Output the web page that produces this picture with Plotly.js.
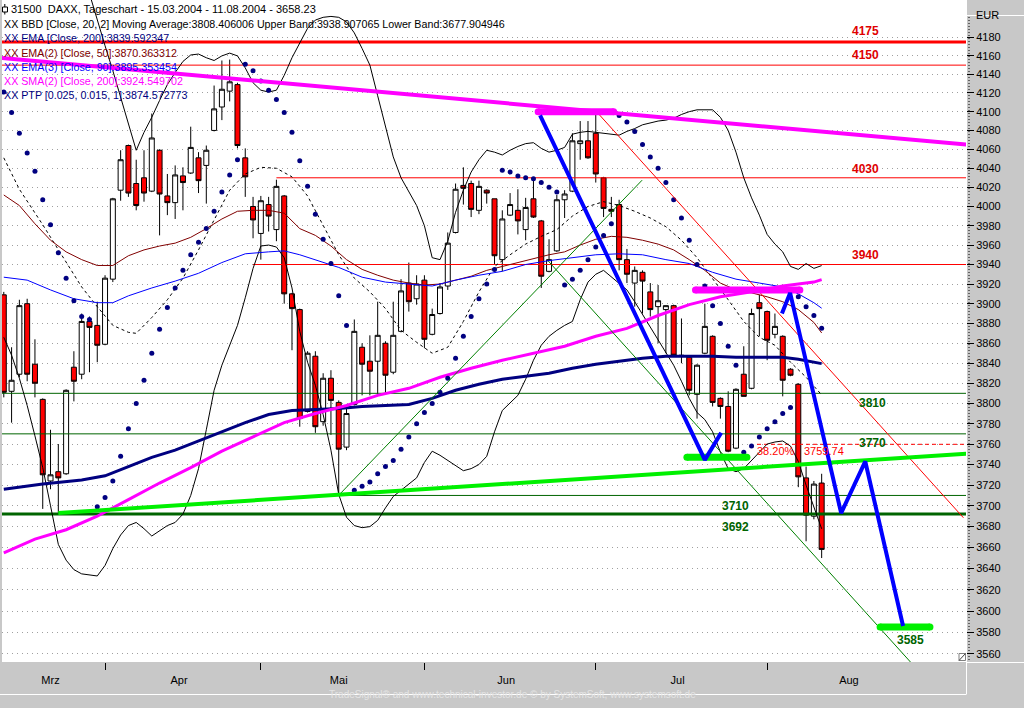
<!DOCTYPE html>
<html><head><meta charset="utf-8">
<script src="https://cdn.plot.ly/plotly-3.0.1.min.js"></script>
<style>html,body{margin:0;padding:0;background:#c8c8c8;}#chart{width:1024px;height:708px;}</style>
</head><body><div id="chart"></div>
<script>
// ---------- DATA ----------
const dates = [
'2004-03-15','2004-03-16','2004-03-17','2004-03-18','2004-03-19','2004-03-22','2004-03-23','2004-03-24','2004-03-25','2004-03-26','2004-03-29','2004-03-30','2004-03-31',
'2004-04-01','2004-04-02','2004-04-05','2004-04-06','2004-04-07','2004-04-08','2004-04-13','2004-04-14','2004-04-15','2004-04-16','2004-04-19','2004-04-20','2004-04-21','2004-04-22','2004-04-23','2004-04-26','2004-04-27','2004-04-28','2004-04-29','2004-04-30',
'2004-05-03','2004-05-04','2004-05-05','2004-05-06','2004-05-07','2004-05-10','2004-05-11','2004-05-12','2004-05-13','2004-05-14','2004-05-17','2004-05-18','2004-05-19','2004-05-20','2004-05-21','2004-05-24','2004-05-25','2004-05-26','2004-05-27','2004-05-28','2004-05-31',
'2004-06-01','2004-06-02','2004-06-03','2004-06-04','2004-06-07','2004-06-08','2004-06-09','2004-06-10','2004-06-11','2004-06-14','2004-06-15','2004-06-16','2004-06-17','2004-06-18','2004-06-21','2004-06-22','2004-06-23','2004-06-24','2004-06-25','2004-06-28','2004-06-29','2004-06-30',
'2004-07-01','2004-07-02','2004-07-05','2004-07-06','2004-07-07','2004-07-08','2004-07-09','2004-07-12','2004-07-13','2004-07-14','2004-07-15','2004-07-16','2004-07-19','2004-07-20','2004-07-21','2004-07-22','2004-07-23','2004-07-26','2004-07-27','2004-07-28','2004-07-29','2004-07-30',
'2004-08-02','2004-08-03','2004-08-04','2004-08-05','2004-08-06','2004-08-09','2004-08-10','2004-08-11'];

const open = [3909,3812,3829,3900,3839,3804,3724,3733,3731,3836,3829,3882,3878,3859,3925,4017,4064,4024,4030,4016,4059,4011,4004,4032,4035,4051,4043,4080,4105,4122,4129,4051,4000,3972,4002,3976,4011,3910,3894,3792,3847,3782,3825,3801,3757,3799,3856,3842,3842,3860,3831,3872,3921,3905,3924,3869,3890,3918,3973,4022,4024,3996,4017,4008,3945,3991,3996,3976,4008,3985,3933,3954,4007,4016,4066,4069,4077,4030,3997,4002,3945,3921,3932,3912,3897,3894,3898,3848,3846,3809,3850,3867,3805,3797,3756,3829,3815,3901,3892,3869,3867,3834,3819,3727,3690,3722];
const high = [3912,3856,3904,3905,3864,3805,3774,3760,3814,3852,3890,3887,3902,3929,4009,4059,4065,4049,4059,4098,4060,4034,4043,4041,4084,4057,4064,4128,4155,4156,4131,4061,4010,4011,4010,4028,4012,3911,3895,3852,3852,3830,3833,3803,3796,3884,3860,3868,3902,3862,3902,3925,3942,3929,3929,3895,3921,3973,4024,4041,4027,4027,4018,4008,3996,4014,4018,4009,4030,3986,3966,4012,4017,4077,4090,4090,4098,4031,4010,4007,3956,3938,3934,3921,3919,3898,3899,3885,3847,3839,3900,3868,3806,3812,3815,3857,3895,3909,3893,3890,3868,3835,3820,3738,3724,3731];
const low = [3806,3781,3826,3822,3806,3697,3716,3693,3730,3802,3824,3831,3841,3858,3922,4006,4010,3996,4005,4015,3970,3991,3987,3996,4034,4014,4003,4079,4091,4111,4061,4010,3967,3945,3974,3964,3900,3853,3777,3791,3771,3778,3769,3712,3754,3798,3808,3808,3808,3810,3829,3871,3892,3899,3855,3868,3889,3914,3972,4002,3989,3992,4003,3940,3933,3990,3971,3965,3988,3916,3932,3953,3988,4015,4049,4050,4025,3989,3989,3934,3921,3897,3890,3887,3860,3850,3847,3840,3808,3785,3849,3797,3785,3752,3755,3807,3814,3867,3843,3865,3807,3827,3718,3666,3687,3650];
const close = [3811,3823,3898,3829,3820,3730,3730,3727,3813,3822,3882,3876,3858,3926,4008,4049,4014,4001,4014,4072,4013,4004,4033,4025,4062,4027,4059,4103,4124,4132,4064,4031,3986,4006,3990,4021,3910,3895,3785,3850,3777,3825,3803,3755,3790,3872,3839,3832,3868,3828,3868,3913,3902,3920,3864,3889,3917,3962,4018,4019,3997,4021,4014,3949,3987,4002,3985,3999,3989,3928,3945,4007,4013,4069,4069,4051,4034,3998,3995,3945,3930,3934,3923,3894,3903,3898,3848,3847,3813,3838,3877,3801,3797,3753,3814,3807,3890,3895,3863,3877,3823,3828,3728,3691,3721,3658.23];

// Bollinger Bands [Close, 20, 2]
const bbUpperX = Array.from({length: 95}, (_, k) => k + 11);
const bbUpper = [4228,4198,4171,4144,4116,4088,4059,4078,4094,4112,4129,4142,4154,4161,4162,4158,4155,4160,4163,4160,4147,4131,4123,4121,4123,4139,4158,4174,4190,4199,4202,4203,4202,4197,4185,4168,4150,4117,4084,4052,4030,4016,4001,3980,3947,3945,3964,3994,4017,4036,4049,4059,4057,4054,4059,4063,4066,4067,4061,4057,4059,4062,4076,4078,4079,4078,4077,4076,4075,4079,4082,4086,4088,4090,4091,4093,4097,4100,4102,4102,4102,4094,4080,4057,4030,4009,3991,3971,3961,3953,3938,3935,3941,3936,3938.9];
const bbMidX = [0,2,5,8,10,12,14,16,17,19,21,23,25,27,29,31,33,35,37,39,41,43,45,47,49,51,53,55,57,59,61,63,65,67,69,71,73,75,77,79,81,83,85,87,89,91,93,95,97,99,101,103,105];
const bbMid = [4051,4018,3981,3942,3917,3897,3878,3871,3870,3886,3904,3926,3955,3986,4017,4034,4041,4040,4031,4011,3981,3950,3926,3912,3895,3873,3861,3850,3856,3882,3912,3938,3950,3961,3969,3976,3990,4000,4005,4001,3995,3988,3979,3965,3947,3926,3904,3882,3866,3858,3841,3826,3808.4];
const bbLower = [3866,3848,3825,3798,3768,3737,3700,3663,3648,3639,3635,3634,3633,3643,3659,3672,3681,3684,3678,3671,3676,3681,3684,3692,3710,3736,3774,3813,3838,3858,3878,3906,3936,3959,3960,3958,3947,3916,3872,3841,3818,3789,3754,3711,3689,3681,3679,3680,3686,3698,3709,3715,3721,3727,3742,3753,3749,3744,3739,3734,3736,3740,3748,3772,3793,3800,3808,3824,3843,3858,3867,3873,3878,3882,3904,3922,3930,3934,3927,3920,3914,3902,3889,3876,3863,3851,3838,3822,3805,3791,3784,3772,3752,3736,3733,3736,3744,3753,3760,3762,3763,3758,3743,3720,3698,3677.9];

// Moving averages
const ema50X = [0,2,4,6,8,10,12,14,16,18,20,22,24,26,28,30,32,34,36,38,40,42,44,46,48,50,52,54,56,58,60,62,64,66,68,70,72,74,76,78,80,82,84,86,88,90,92,94,96,98,100,102,104,105];
const ema50 = [4012,4001,3982,3965,3953,3945,3939,3939,3949,3955,3959,3962,3968,3977,3987,3995,3996,3996,3993,3977,3970,3959,3945,3935,3929,3924,3921,3919,3920,3924,3928,3934,3938,3942,3946,3950,3953,3960,3966,3969,3968,3965,3961,3955,3945,3934,3921,3914,3911,3907,3902,3894,3881,3870.4];
const ema90X = [0,3,6,9,12,14,16,19,22,25,28,31,34,36,38,40,43,46,49,52,55,58,61,64,67,70,73,76,79,82,85,88,91,94,97,100,102,104,105];
const ema90 = [3927,3924,3914,3905,3901,3901,3908,3916,3923,3931,3942,3951,3953,3954,3950,3945,3937,3927,3922,3920,3918,3924,3929,3933,3940,3944,3947,3950,3951,3950,3945,3941,3932,3925,3921,3917,3910,3901,3895.4];
const ema200X = [0,5,10,13,16,19,22,25,28,31,34,37,40,43,46,49,52,55,58,61,64,67,70,73,76,79,82,85,88,91,94,97,100,102,104,105];
const ema200 = [3716,3721,3725,3729,3738,3747,3754,3763,3772,3781,3789,3793,3794,3795,3797,3798,3799,3805,3813,3819,3824,3827,3830,3835,3839,3842,3845,3847,3847,3847,3846,3846,3846,3844,3841,3839.6];
const sma200X = [0,4,8,12,16,20,24,28,32,36,40,44,48,52,56,60,64,68,72,76,80,84,88,92,96,100,104,105];
const sma200 = [3655,3668,3677,3690,3706,3722,3737,3753,3767,3781,3790,3798,3808,3815,3826,3835,3843,3850,3857,3867,3875,3888,3899,3907,3912,3918,3922,3924.5];

// Parabolic SAR (PTP), one value per trading day
const sar = [4121,4099,4077,4056,4037,4007,3981,3952,3926,3903,3887,3884,3699,3708,3724,3748,3775,3800,3823,3850,3874,3896,3916,3934,3950,3963,3977,3995,4015,4033,4049,4151,4144,4133,4123,4113,4099,4078,4048,4021,3992,3966,3941,3908,3878,3715,3719,3723,3731,3738,3744,3755,3767,3780,3791,3800,3811,3825,3845,3867,3887,3905,3920,3935,4038,4036,4032,4030,4029,4025,4020,4015,3919,3925,3934,3945,3958,3970,3982,4096,4089,4079,4065,4052,4040,4025,4007,3988,3965,3940,3918,3898,3880,3857,3838,3752,3758,3767,3775,3782,3790,3796,3907,3897,3888,3875];

// Horizontal levels
const redLevels = [4175, 4150, 4030, 3940];
const greenLevels = [3810, 3770, 3710, 3692];
const fibLevel = 3759.74;
const fibLabels = ['38.20%', '3759.74'];
const targetLevel = 3585;

// Drawn trend / projection lines: [day index, value]
const magentaTrendX = [-0.5, 123.6], magentaTrendY = [4158, 4065];
const greenTrendX = [7, 123.6], greenTrendY = [3693, 3750.5];
const magentaTopX = [68.6, 78.3], magentaTopY = [4100, 4100];
const magentaMidX = [88.8, 102.2], magentaMidY = [3914, 3914];
const greenLowX = [87.7, 95.4], greenLowY = [3747, 3747];
const greenTargetX = [112.5, 118.9], greenTargetY = [3585, 3585];
const blue1X = [68.85, 90.0, 92.1], blue1Y = [4096, 3744.5, 3771];
const blue2X = [99.9, 100.95, 107.5, 110.6, 115.45], blue2Y = [3890, 3911, 3693, 3743, 3586];
const redChannelX = [76.1, 123.2], redChannelY = [4100, 3688.5];
const greenUpX = [43.17, 81.95], greenUpY = [3711.5, 4027.5];
const greenDownX = [69.9, 116.4], greenDownY = [3943.6, 3552.5];

// Axis ticks
const yTicks = [3560,3580,3600,3620,3640,3660,3680,3700,3720,3740,3760,3780,3800,3820,3840,3860,3880,3900,3920,3940,3960,3980,4000,4020,4040,4060,4080,4100,4120,4140,4160,4180];
const monthNames = ['Mrz','Apr','Mai','Jun','Jul','Aug'];
const monthLabelPos = [6, 22.5, 43, 64.5, 86.5, 108.5];
const monthStartPos = [13, 33, 54, 76, 98];

const legendTexts = [
  '31500\u00a0 DAXX, Tageschart - 15.03.2004 - 11.08.2004 - 3658.23',
  'XX BBD [Close, 20, 2] Moving Average:3808.406006 Upper Band:3938.907065 Lower Band:3677.904946',
  'XX EMA [Close, 200]:3839.592347',
  'XX EMA(2) [Close, 50]:3870.363312',
  'XX EMA(3) [Close, 90]:3895.353454',
  'XX SMA(2) [Close, 200]:3924.549702',
  'XX PTP [0.025, 0.015, 1]:3874.572773'
];

// ---------- BUILD ----------
const FONT = 'Liberation Sans, Arial, sans-serif';
const PX = p => (p - 2) / 964;
const PY = p => (662 - p) / 662;
const idx = dates.map((d, i) => i);
const X0 = -0.5, X1 = 124;
const RED = '#ff0000', DKGREEN = '#006400', LIME = '#00f000', MAG = '#ff00ff', NAVY = '#000080', BLUE = '#0000ff', MAROON = '#800000';

const traces = [];
function line(x, y, color, width, dash, caps) {
  const t = {type: 'scatter', mode: caps ? 'lines+markers' : 'lines', x: x, y: y,
    line: {color: color, width: width, dash: dash || 'solid'}, hoverinfo: 'skip', showlegend: false};
  if (caps) t.marker = {size: width, color: color, line: {width: 0}};
  traces.push(t);
}

// levels
const redStarts = [X0, X0, 35, 32], redWidths = [3, 1, 1, 1];
redLevels.forEach((v, k) => line([redStarts[k], X1], [v, v], RED, redWidths[k]));
const greenStarts = [X0, X0, 43, X0], greenWidths = [1, 1, 1, 3];
greenLevels.forEach((v, k) => line([greenStarts[k], X1], [v, v], DKGREEN, greenWidths[k]));
line([96.7, X1], [fibLevel, fibLevel], RED, 1, '4px,3px');

// candles
traces.push({type: 'candlestick', x: idx, open: open, high: high, low: low, close: close,
  increasing: {line: {color: '#000000', width: 1}, fillcolor: '#ffffff'},
  decreasing: {line: {color: '#000000', width: 1}, fillcolor: '#ff0000'},
  whiskerwidth: 0, hoverinfo: 'skip', showlegend: false});

// indicators
line(bbUpperX, bbUpper, '#000000', 1);
line(idx, bbLower, '#000000', 1);
line(bbMidX, bbMid, '#000000', 1, '3px,3px');
line(ema50X, ema50, MAROON, 1);
line(ema90X, ema90, BLUE, 1);
line(ema200X, ema200, NAVY, 3);
line(sma200X, sma200, MAG, 3);
traces.push({type: 'scatter', mode: 'markers', x: idx, y: sar, marker: {size: 5, color: NAVY},
  hoverinfo: 'skip', showlegend: false});

// drawn lines
line(redChannelX, redChannelY, RED, 1);
line(greenUpX, greenUpY, '#008000', 1);
line(greenDownX, greenDownY, '#008000', 1);
line(magentaTrendX, magentaTrendY, MAG, 4);
line(greenTrendX, greenTrendY, LIME, 4);
line(magentaTopX, magentaTopY, MAG, 7, null, true);
line(magentaMidX, magentaMidY, MAG, 7, null, true);
line(greenLowX, greenLowY, LIME, 7, null, true);
line(greenTargetX, greenTargetY, LIME, 7, null, true);
line(blue1X, blue1Y, BLUE, 4);
line(blue2X, blue2Y, BLUE, 4);

// annotations
const ann = [];
const legendColors = ['#000000', '#000000', NAVY, MAROON, BLUE, MAG, NAVY];
const legendY = [8.8, 24.4, 38.5, 52.8, 67, 81.2, 95.4];
legendTexts.forEach((t, k) => ann.push({xref: 'paper', yref: 'paper', x: PX(k === 0 ? 10 : 3), y: PY(legendY[k]),
  xanchor: 'left', yanchor: 'middle', text: t, showarrow: false, borderpad: 0,
  font: {family: FONT, size: k === 0 ? 11 : 10.7, color: legendColors[k]}}));

const lg = v => Math.log10(v);
const redLabelShift = [11, 10, 9, 10];
redLevels.forEach((v, k) => ann.push({x: 110.6, y: lg(v), xref: 'x', yref: 'y', yshift: redLabelShift[k],
  text: '<b>' + v + '</b>', showarrow: false, font: {family: FONT, size: 12, color: '#e00000'}}));
const greenLabelX = [111.5, 111.5, 93.9, 93.9], greenLabelShift = [-10, -9, -11, -13];
greenLevels.forEach((v, k) => ann.push({x: greenLabelX[k], y: lg(v), xref: 'x', yref: 'y', yshift: greenLabelShift[k],
  text: '<b>' + v + '</b>', showarrow: false, font: {family: FONT, size: 12, color: DKGREEN}}));
ann.push({x: 116.4, y: lg(targetLevel), xref: 'x', yref: 'y', yshift: -13, text: '<b>' + targetLevel + '</b>',
  showarrow: false, font: {family: FONT, size: 12, color: DKGREEN}});
[99.2, 105.25].forEach((xx, k) => ann.push({x: xx, y: lg(fibLevel), xref: 'x', yref: 'y', yshift: -7,
  text: fibLabels[k], showarrow: false, font: {family: FONT, size: 11, color: '#ff0000'}}));
ann.push({xref: 'paper', yref: 'paper', x: PX(1001), y: PY(7.5), text: 'EUR', showarrow: false,
  font: {family: FONT, size: 11, color: '#000000'}});
ann.push({xref: 'paper', yref: 'paper', x: PX(512), y: PY(701.5),
  text: 'TradeSignal\u00ae and www.technical-investor.de \u00a9 by SystemSoft, www.systemsoft.de',
  showarrow: false, font: {family: FONT, size: 10, color: '#e4e4e4'}});

// frame decorations (paper coords)
const shapes = [
  {type: 'line', xref: 'paper', yref: 'paper', x0: PX(0), x1: PX(966), y0: PY(694.5), y1: PY(694.5), line: {color: '#ffffff', width: 1}},
  {type: 'line', xref: 'paper', yref: 'paper', x0: PX(966.5), x1: PX(966.5), y0: PY(663), y1: PY(694.5), line: {color: '#ffffff', width: 1}},
  {type: 'line', xref: 'paper', yref: 'paper', x0: PX(966.5), x1: PX(966.5), y0: PY(0), y1: PY(662.5), line: {color: '#ffffff', width: 1}},
  {type: 'line', xref: 'paper', yref: 'paper', x0: PX(966), x1: PX(1024), y0: PY(662.5), y1: PY(662.5), line: {color: '#ffffff', width: 1}},
  {type: 'line', xref: 'paper', yref: 'paper', x0: PX(966), x1: PX(1024), y0: PY(15.5), y1: PY(15.5), line: {color: '#ffffff', width: 1}},
  {type: 'line', xref: 'paper', yref: 'paper', x0: PX(969), x1: PX(969), y0: PY(17), y1: PY(660), line: {color: '#000000', width: 1, dash: '1px,2px'}},
  {type: 'line', xref: 'paper', yref: 'paper', x0: PX(4.8), x1: PX(4.8), y0: PY(4), y1: PY(14.5), line: {color: '#000000', width: 1}},
  {type: 'rect', xref: 'paper', yref: 'paper', x0: PX(2.5), x1: PX(7.5), y0: PY(7), y1: PY(12), fillcolor: '#ffffff', line: {color: '#000000', width: 1}},
  {type: 'rect', xref: 'paper', yref: 'paper', x0: PX(959), x1: PX(965.5), y0: PY(653.5), y1: PY(660.5), fillcolor: '#ffffff', line: {color: '#808080', width: 1}},
  {type: 'line', xref: 'paper', yref: 'paper', x0: PX(959), x1: PX(965.5), y0: PY(660.5), y1: PY(653.5), line: {color: '#404040', width: 1}}
];

const layout = {
  width: 1024, height: 708,
  margin: {l: 2, r: 58, t: 0, b: 46, pad: 0},
  paper_bgcolor: '#c8c8c8', plot_bgcolor: '#ffffff',
  showlegend: false, hovermode: false,
  boxgap: 0.2, boxgroupgap: 0.2,
  font: {family: FONT, size: 11, color: '#000000'},
  xaxis: {type: 'linear', range: [-0.23, 123.53], rangeslider: {visible: false},
    tickmode: 'array', tickvals: monthLabelPos, ticktext: monthNames,
    ticks: 'outside', ticklen: 8, tickcolor: 'rgba(0,0,0,0)',
    minor: {tickmode: 'array', tickvals: monthStartPos, ticks: 'outside', ticklen: 7, tickcolor: '#000000', tickwidth: 1, showgrid: false},
    showgrid: false, zeroline: false, showline: false,
    tickfont: {family: FONT, size: 11, color: '#000000'}},
  yaxis: {type: 'log', range: [Math.log10(3552.5), Math.log10(4221)], side: 'right',
    tickmode: 'array', tickvals: yTicks, ticktext: yTicks.map(String),
    ticks: 'outside', ticklen: 7, tickcolor: '#000000', tickwidth: 1,
    showgrid: true, gridcolor: '#a0a0a0', griddash: '1px,4px', gridwidth: 1,
    zeroline: false, showline: false,
    tickfont: {family: FONT, size: 11, color: '#000000'}},
  annotations: ann,
  shapes: shapes
};

Plotly.newPlot('chart', traces, layout, {staticPlot: true, displayModeBar: false});
</script></body></html>
